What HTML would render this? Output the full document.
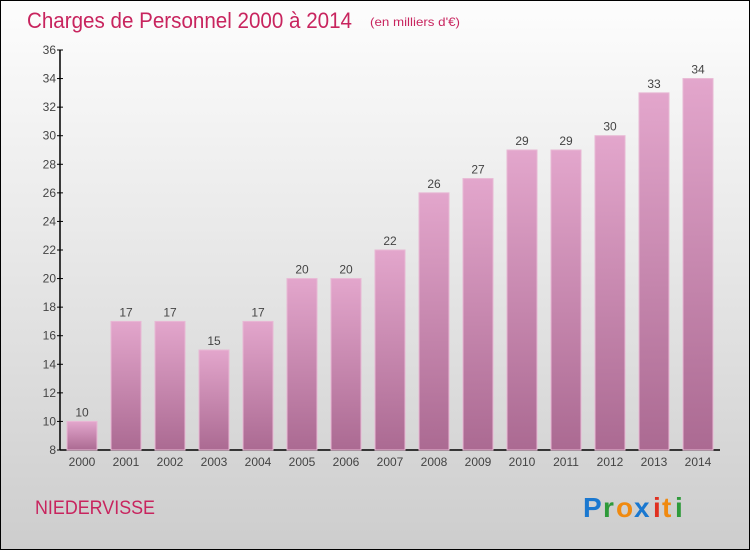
<!DOCTYPE html>
<html><head><meta charset="utf-8"><style>
html,body{margin:0;padding:0;}
body{width:750px;height:550px;overflow:hidden;font-family:"Liberation Sans",sans-serif;}
#wrap{position:absolute;left:0;top:0;width:748px;height:548px;border:1px solid #000;background:linear-gradient(#fdfdfd,#e8e8e8 45%,#cdcdcd);}
</style></head><body>
<div id="wrap">
<svg width="750" height="550" style="position:absolute;left:-1px;top:-1px">
<defs>
<linearGradient id="bg" x1="0" y1="0" x2="0" y2="1"><stop offset="0" stop-color="#e3a6cc"/><stop offset="1" stop-color="#ab6a92"/></linearGradient>
</defs>
<text x="27" y="28" font-size="22" fill="#c8245e" textLength="325" lengthAdjust="spacingAndGlyphs">Charges de Personnel 2000 à 2014</text>
<text x="370" y="26" font-size="12" fill="#c8245e" textLength="90" lengthAdjust="spacingAndGlyphs">(en milliers d'€)</text>
<text x="35" y="514" font-size="19" fill="#c8245e" textLength="120" lengthAdjust="spacingAndGlyphs">NIEDERVISSE</text>
<g font-size="28" font-weight="bold">
<text x="583" y="517" fill="#1a78d0">P</text><text x="603" y="517" fill="#2e9a3a">r</text><text x="616" y="517" fill="#f08a10">o</text><text x="634" y="517" fill="#1a78d0">x</text><text x="653" y="517" fill="#e03020">i</text><text x="662" y="517" fill="#f08a10">t</text><text x="675" y="517" fill="#2e9a3a">i</text>
</g>
<g id="axes"></g>
<g id="bars"></g>
</svg>
</div>
<script>
const years=["2000","2001","2002","2003","2004","2005","2006","2007","2008","2009","2010","2011","2012","2013","2014"];
const values=[10,17,17,15,17,20,20,22,26,27,29,29,30,33,34];
const yTicks=[8,10,12,14,16,18,20,22,24,26,28,30,32,34,36];
const NS="http://www.w3.org/2000/svg";
const yMin=8,yMax=36,plotTop=50,plotBottom=450;
function y(v){return plotBottom-(v-yMin)/(yMax-yMin)*(plotBottom-plotTop);}
function x(i){return 82+44*i;}
function mk(t,a,p){const e=document.createElementNS(NS,t);for(const k in a)e.setAttribute(k,a[k]);p.appendChild(e);return e;}
const ax=document.getElementById('axes'),bg=document.getElementById('bars');
let l=mk('line',{x1:60,y1:plotTop,x2:60,y2:plotBottom,stroke:'#000','stroke-width':1.5},ax);


l=mk('line',{x1:60,y1:plotBottom,x2:720,y2:plotBottom,stroke:'#000','stroke-width':1.5},ax);


yTicks.forEach(v=>{
 const t=mk('line',{x1:57,x2:63,y1:y(v),y2:y(v),stroke:'#000'},ax);
 
 
 const tx=mk('text',{x:56,y:y(v)+4,'font-size':12,fill:'#444','text-anchor':'end'},ax);
 tx.textContent=v;
 
 
});
years.forEach((yr,i)=>{
 const r=mk('rect',{x:x(i)-15,y:y(values[i]),width:30,height:plotBottom-y(values[i]),fill:'url(#bg)',stroke:'#e8b8d4','stroke-width':1},bg);
 
 
 const v=mk('text',{x:x(i),y:y(values[i])-5,'font-size':12,fill:'#444','text-anchor':'middle'},bg);
 v.textContent=values[i];
 
 
 const xl=mk('text',{x:x(i),y:466,'font-size':12,fill:'#444','text-anchor':'middle'},ax);
 xl.textContent=yr;
 
 
});
</script>
</body></html>
